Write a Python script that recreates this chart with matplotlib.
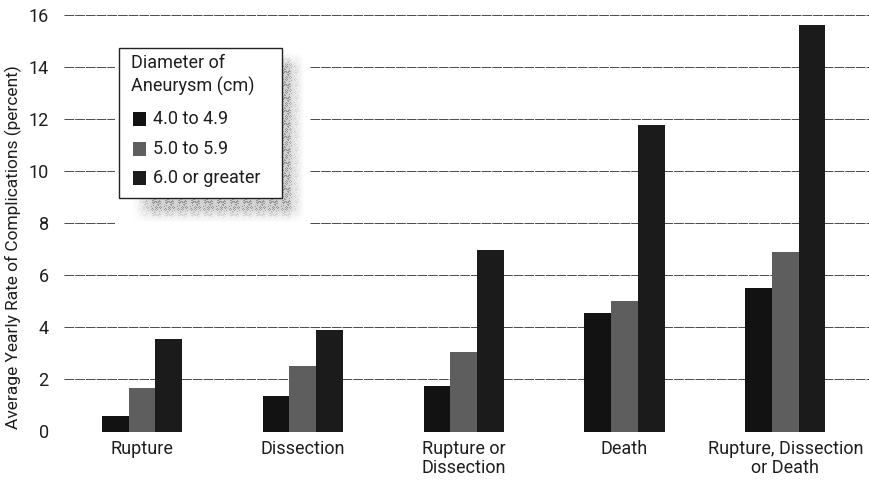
import numpy as np
import matplotlib
matplotlib.use("Agg")
import matplotlib.pyplot as plt
from matplotlib.patches import Rectangle

plt.rcParams['font.family'] = ['Roboto', 'DejaVu Sans']

categories = ["Rupture", "Dissection", "Rupture or\nDissection", "Death",
              "Rupture, Dissection\nor Death"]
series_names = ["4.0 to 4.9", "5.0 to 5.9", "6.0 or greater"]
small = [0.6, 1.35, 1.75, 4.55, 5.5]
medium = [1.65, 2.5, 3.05, 5.0, 6.9]
large = [3.55, 3.9, 6.95, 11.75, 15.6]
yticks = [0, 2, 4, 6, 8, 10, 12, 14, 16]

colors = ["#121212", "#5e5e5e", "#1b1b1b"]
txt = "#1e1e1e"
fs = 13

W, H = 869, 483
fig = plt.figure(figsize=(W / 100, H / 100), dpi=100)


def fx(px):
    return px / W


# main axes
ax = fig.add_axes([fx(64), (H - 431.5) / H, 1 - fx(64), (431.5 - 6.7) / H])
x = np.arange(len(categories))
bw = 0.166
for i, (vals, c) in enumerate(zip([small, medium, large], colors)):
    ax.bar(x + (i - 1) * bw, vals, width=bw, color=c, edgecolor="none", zorder=3)

ax.set_xlim(-0.485, 4.52)
ax.set_ylim(0, 16.3)
ax.set_yticks(yticks)
ax.set_yticklabels([str(t) for t in yticks], fontsize=fs, color=txt)
ax.set_xticks(x)
ax.set_xticklabels(categories, fontsize=fs, color=txt, linespacing=1.05)
ax.tick_params(axis="y", length=0, pad=11)
ax.tick_params(axis="x", length=0, pad=6)
ax.grid(axis="y", color="#4a4a4a", linestyle=(0, (10, 1)), linewidth=0.7, zorder=1)
for s in ax.spines.values():
    s.set_visible(False)
ax.set_ylabel("Average Yearly Rate of Complications (percent)", fontsize=12.5,
              color=txt)
ax.yaxis.set_label_coords(-0.052, 0.435)

# legend shadow: soft speckled gray block offset down-right
x0, y0, sw, shh = 115, 45, 195, 180
sh = fig.add_axes([fx(x0), (H - y0 - shh) / H, fx(sw), shh / H], zorder=4)
px, py = np.meshgrid(np.arange(sw) + x0, np.arange(shh) + y0)
edge_x = np.clip(np.minimum((px - 132) / 20, (304 - px) / 16), 0, 1)
edge_y = np.clip(np.minimum((py - 52) / 14, (222 - py) / 14), 0, 1)
speckle = ((px * px * 31 + py * py * 17 + px * py * 7) % 13 < 4) * 0.22
shade = edge_x * edge_y * (0.28 + speckle)
sh.imshow(shade, cmap="Greys", vmin=0, vmax=1.0, origin="upper",
          extent=[0, 1, 0, 1], aspect="auto", interpolation="nearest")
sh.set_axis_off()

# legend box
lg = fig.add_axes([0, 0, 1, 1], zorder=5)
lg.set_xlim(0, W)
lg.set_ylim(H, 0)
lg.set_axis_off()
lg.patch.set_alpha(0)
lg.add_patch(Rectangle((119, 48), 163, 150, facecolor="white", edgecolor="#222222",
                       linewidth=1.0))
lg.text(131, 54, "Diameter of\nAneurysm (cm)", fontsize=fs, color=txt,
        va="top", ha="left", linespacing=1.35)
for i, (name, c) in enumerate(zip(series_names, colors)):
    yy = 119 + i * 29.5
    lg.add_patch(Rectangle((133, yy - 7), 13, 14, facecolor=c, edgecolor="none"))
    lg.text(153, yy, name, fontsize=fs, color=txt, va="center", ha="left")

fig.savefig("out.png", dpi=100)
